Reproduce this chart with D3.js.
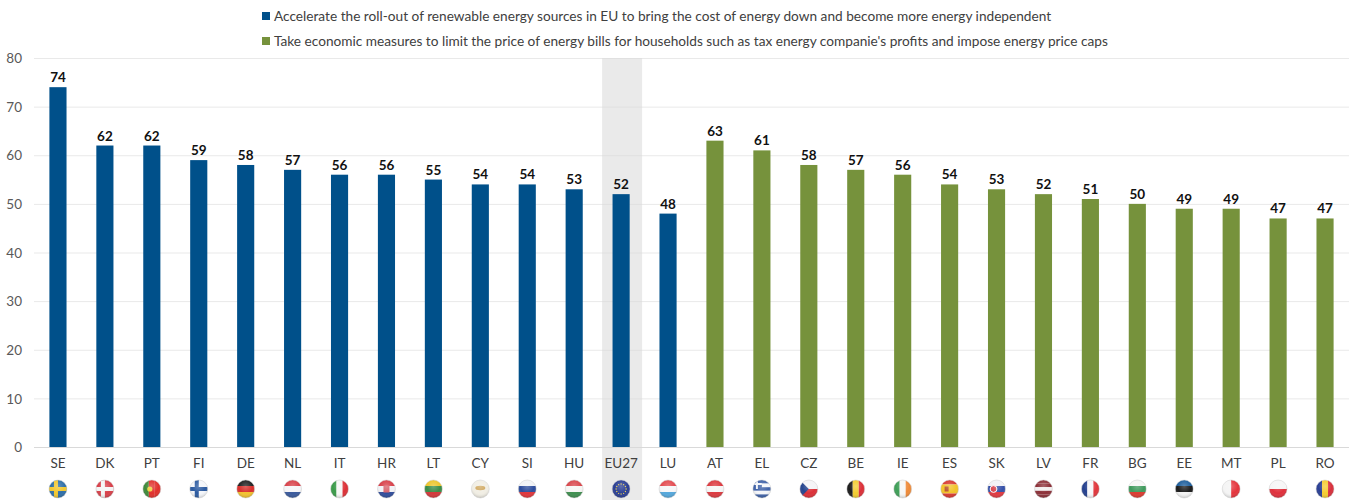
<!DOCTYPE html>
<html><head><meta charset="utf-8">
<script src="https://cdn.jsdelivr.net/npm/d3@7/dist/d3.min.js"></script>
<style>html,body{margin:0;padding:0;background:#fff}svg{display:block}text{font-family:Lato,"Open Sans",sans-serif}</style>
</head><body><svg id="c" width="1354" height="500"></svg>
<script>
const categories=["SE","DK","PT","FI","DE","NL","IT","HR","LT","CY","SI","HU","EU27","LU","AT","EL","CZ","BE","IE","ES","SK","LV","FR","BG","EE","MT","PL","RO"];
const values=[74,62,62,59,58,57,56,56,55,54,54,53,52,48,63,61,58,57,56,54,53,52,51,50,49,49,47,47];
const seriesIndex=[0,0,0,0,0,0,0,0,0,0,0,0,0,0,1,1,1,1,1,1,1,1,1,1,1,1,1,1];
const seriesNames=["Accelerate the roll-out of renewable energy sources in EU to bring the cost of energy down and become more energy independent","Take economic measures to limit the price of energy bills for households such as tax energy companie's profits and impose energy price caps"];
const seriesColors=["#00508a","#76923c"];
const yTicks=[0,10,20,30,40,50,60,70,80];
const highlight="EU27";
const flagStripes={SE:["h",["#2f6fa8"]],DK:["h",["#d8404a"]],PT:["v",["#3f8a3a","#e0302c","#e0302c"]],FI:["h",["#f4f6fa"]],DE:["h",["#222222","#d9302c","#f2c230"]],NL:["h",["#d8414a","#f5f5f8","#3a5a9c"]],IT:["v",["#3a9a48","#f6f6f4","#dc3036"]],HR:["h",["#d8404a","#f2f2f6","#2f4d9c"]],LT:["h",["#eec52c","#3c8c48","#d2383a"]],CY:["h",["#f1eee4"]],SI:["h",["#f0f2f6","#2c4c9c","#e0363c"]],HU:["h",["#d9474c","#f6f6f4","#3f8f50"]],EU27:["h",["#2b3f94"]],LU:["h",["#e34a50","#f6f6f8","#55a8dc"]],AT:["h",["#dc3a40","#f6f6f6","#dc3a40"]],EL:["h",["#3f62a8","#f4f6fa","#3f62a8","#f4f6fa","#3f62a8"]],CZ:["h",["#f4f4f6","#dc3038"]],BE:["v",["#1c1c1c","#f2cc30","#dc3038"]],IE:["v",["#3f9f58","#f6f6f4","#ee8a38"]],ES:["h",["#d83a30","#f2c428","#f2c428","#d83a30"]],SK:["h",["#f2f2f6","#3550a8","#e03840"]],LV:["h",["#8c3038","#8c3038","#f2f0f0","#8c3038","#8c3038"]],FR:["v",["#24408e","#f6f6f8","#e0363c"]],BG:["h",["#f6f6f4","#3f9a5c","#dc3a30"]],EE:["h",["#1f5f9c","#1c1c1c","#f4f4f4"]],MT:["v",["#f4f4f4","#e4343c"]],PL:["h",["#f6f6f6","#e0303c"]],RO:["v",["#2a3f94","#f4cc30","#d8303c"]]};
const flagCross={SE:"#f2c830",DK:"#f4f4f4",FI:"#2b5aa0"};

const svg=d3.select("#c");
const x=d3.scaleBand().domain(categories).range([34.5,1348.5]).paddingInner(0.635).paddingOuter(0.3175);
const y=d3.scaleLinear().domain([0,80]).range([447,58]);

const defs=svg.append("defs");
const gloss=defs.append("radialGradient").attr("id","gloss").attr("cx","50%").attr("cy","35%").attr("r","65%");
gloss.append("stop").attr("offset","0%").attr("stop-color","#fff").attr("stop-opacity",.25);
gloss.append("stop").attr("offset","60%").attr("stop-color","#fff").attr("stop-opacity",0);
gloss.append("stop").attr("offset","100%").attr("stop-color","#000").attr("stop-opacity",.2);

// grid
svg.append("g").selectAll("line").data(yTicks).join("line")
 .attr("x1",34).attr("x2",1349).attr("y1",d=>y(d)+.5).attr("y2",d=>y(d)+.5)
 .attr("stroke",d=>d===0?"#d9d9d9":"#e9e9e9").attr("stroke-width",1);
// highlight band
const hx=x(highlight)+x.bandwidth()/2+1;
svg.append("rect").attr("x",hx-20).attr("width",40).attr("y",y(80)).attr("height",500-y(80)).attr("fill","#d9d9d9").attr("fill-opacity",.55);
// y labels
svg.append("g").selectAll("text").data(yTicks).join("text")
 .attr("x",22).attr("y",d=>y(d)+.5).attr("dy","0.35em").attr("text-anchor","end")
 .attr("font-size",13.5).attr("fill","#595959").text(d=>d);
// bars
svg.append("g").selectAll("rect").data(categories).join("rect")
 .attr("x",d=>x(d)).attr("width",x.bandwidth())
 .attr("y",(d,i)=>y(values[i])).attr("height",(d,i)=>y(0)-y(values[i]))
 .attr("fill",(d,i)=>seriesColors[seriesIndex[i]]);
// value labels
svg.append("g").selectAll("text").data(categories).join("text")
 .attr("x",d=>x(d)+x.bandwidth()/2).attr("y",(d,i)=>y(values[i])-5)
 .attr("text-anchor","middle").attr("font-size",13.5).attr("font-weight",700).attr("fill","#111")
 .text((d,i)=>values[i]);
// cat labels
svg.append("g").selectAll("text").data(categories).join("text")
 .attr("x",d=>x(d)+x.bandwidth()/2).attr("y",463.5).attr("dy","0.35em")
 .attr("text-anchor","middle").attr("font-size",13.5).attr("fill","#404040").text(d=>d);
// flags
const r=9,fy=489;
categories.forEach((c,i)=>{
 const cx=x(c)+x.bandwidth()/2;
 defs.append("clipPath").attr("id","f"+i).append("circle").attr("cx",cx).attr("cy",fy).attr("r",r);
 const g=svg.append("g").attr("clip-path",`url(#f${i})`);
 const [dir,cols]=flagStripes[c];
 const n=cols.length, sc=d3.scaleBand().domain(d3.range(n)).range(dir==="h"?[fy-r,fy+r]:[cx-r,cx+r]);
 g.selectAll("rect").data(cols).join("rect")
  .attr("x",(d,j)=>dir==="h"?cx-r:sc(j)).attr("y",(d,j)=>dir==="h"?sc(j):fy-r)
  .attr("width",dir==="h"?2*r:sc.bandwidth()).attr("height",dir==="h"?sc.bandwidth():2*r).attr("fill",d=>d);
 if(flagCross[c]){
  g.append("rect").attr("x",cx-r).attr("y",fy-2).attr("width",2*r).attr("height",4).attr("fill",flagCross[c]);
  g.append("rect").attr("x",cx-4).attr("y",fy-r).attr("width",4).attr("height",2*r).attr("fill",flagCross[c]);
 }
 if(c==="EL"){g.append("rect").attr("x",cx-r).attr("y",fy-r).attr("width",9).attr("height",9).attr("fill","#3f62a8");
  g.append("rect").attr("x",cx-r).attr("y",fy-6).attr("width",9).attr("height",2).attr("fill","#f4f6fa");
  g.append("rect").attr("x",cx-6).attr("y",fy-r).attr("width",2).attr("height",9).attr("fill","#f4f6fa");}
 if(c==="CZ"){g.append("path").attr("d",`M${cx-r} ${fy-r}L${cx} ${fy}L${cx-r} ${fy+r}Z`).attr("fill","#26458f");}
 if(c==="CY"){g.append("ellipse").attr("cx",cx).attr("cy",fy-1).attr("rx",5).attr("ry",2.2).attr("fill","#d0a860");}
 if(c==="EU27"){d3.range(12).forEach(k=>{const a=k/12*2*Math.PI;g.append("circle").attr("cx",cx+5*Math.cos(a)).attr("cy",fy+5*Math.sin(a)).attr("r",.7).attr("fill","#e8d050");});}
 if(c==="PT"){g.append("circle").attr("cx",cx-2).attr("cy",fy).attr("r",2.6).attr("fill","#f0d040");}
 if(c==="HR"){g.append("rect").attr("x",cx-3).attr("y",fy-3.5).attr("width",6).attr("height",7).attr("fill","#d8606a");}
 if(c==="SK"){g.append("circle").attr("cx",cx-3).attr("cy",fy).attr("r",3.4).attr("fill","#d8404a").attr("stroke","#fff");}
 if(c==="ES"){g.append("rect").attr("x",cx-5).attr("y",fy-2.5).attr("width",4).attr("height",5).attr("fill","#b8502c");}
 svg.append("circle").attr("cx",cx).attr("cy",fy).attr("r",r).attr("fill","url(#gloss)").attr("stroke","#cfcfcf").attr("stroke-width",.5);
});
// legend
const ly=[16.5,41.5];
seriesNames.forEach((s,i)=>{
 svg.append("rect").attr("x",262).attr("y",ly[i]-4.5).attr("width",8).attr("height",8).attr("fill",seriesColors[i]);
 svg.append("text").attr("x",274).attr("y",ly[i]).attr("dy","0.35em").attr("font-size",13.66).attr("fill","#404040").text(s);
});
</script></body></html>
